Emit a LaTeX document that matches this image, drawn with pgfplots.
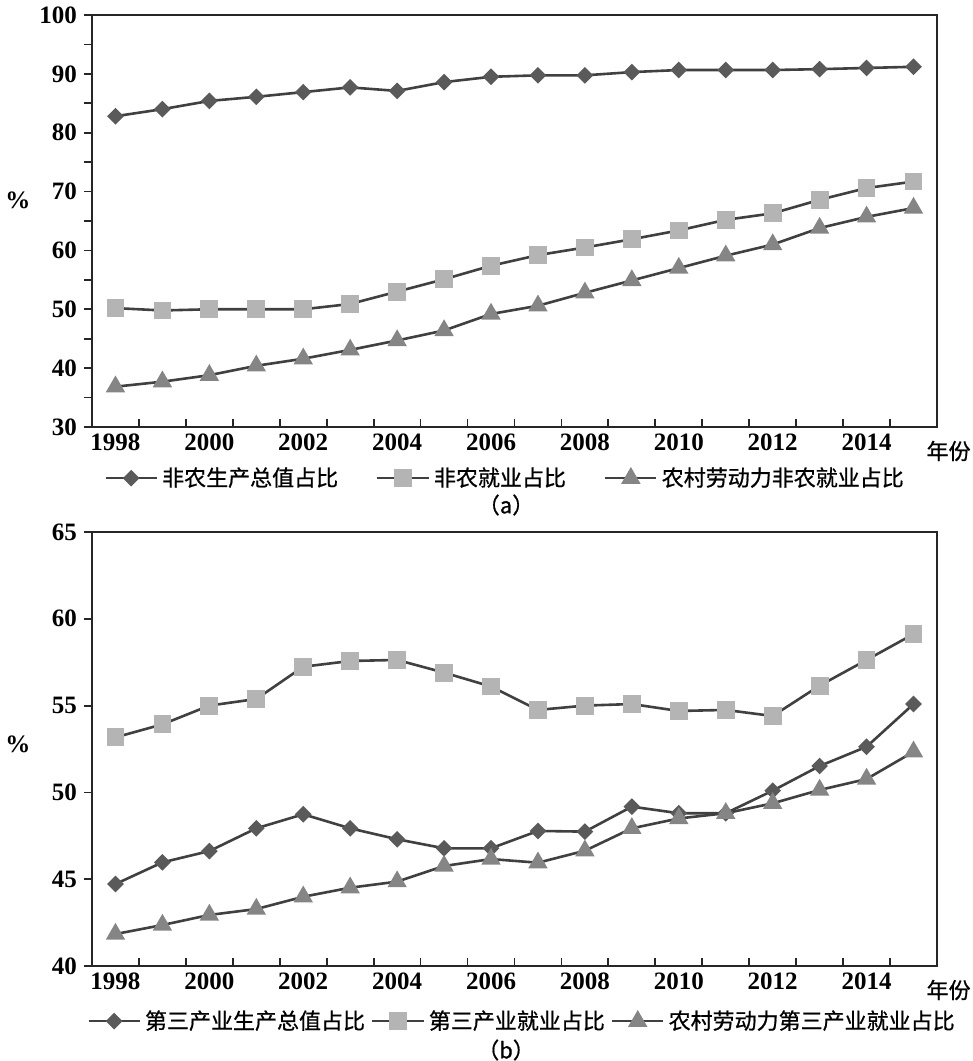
\documentclass[border=0pt]{standalone}
\usepackage{pgfplots}
\pgfplotsset{compat=1.18}
\usepackage{fontspec}
\setmainfont{Liberation Serif}
\newfontfamily\cjk[FakeBold=0.8]{Noto Sans CJK SC}
\definecolor{linec}{HTML}{404040}
\definecolor{dia}{HTML}{5A5A5A}
\definecolor{sq}{HTML}{B4B4B4}
\definecolor{tri}{HTML}{858585}
\begin{document}
\begin{tikzpicture}
\pgfplotsset{
  base/.style={
    scale only axis, width=422.5pt,
    xmin=1997.5, xmax=2015.5,
    xtick={1998,2000,...,2014},
    minor xtick={1998.5,1999.5,...,2014.5},
    xtick pos=bottom, ytick pos=left,
    xtick align=inside, ytick align=outside,
    major x tick style={draw=none},
    major tick length=4pt, minor tick length=4pt,
    axis line style={line width=1pt, black!85},
    tick style={line width=0.9pt, black!85},
    tick label style={font=\bfseries\fontsize{12.5}{14}\selectfont},
    /pgf/number format/assume math mode=true,
    /pgf/number format/1000 sep={},
    clip=false,
    legend columns=3,
    legend image code/.code={\draw[mark repeat=2,mark phase=2,##1] plot coordinates {(0cm,0cm) (0.45cm,0cm) (0.9cm,0cm)};},
  },
  sdia/.style={color=linec, line width=1.3pt, mark=square*, mark size=2.3pt, mark options={rotate=45, fill=dia, draw=dia, solid}},
  ssq/.style={color=linec, line width=1.3pt, mark=square*, mark size=3.8pt, mark options={fill=sq, draw=sq, solid}},
  stri/.style={color=linec, line width=1.3pt, mark=triangle*, mark size=4.3pt, mark options={fill=tri, draw=tri, solid}},
}
\path[use as bounding box] (-46pt,-47.5pt) rectangle (440.5pt,483pt);

% ---------- panel (a) ----------
\begin{axis}[base, at={(0,269.5pt)}, height=206pt,
  ymin=30, ymax=100, ytick={30,40,...,100}, minor ytick={35,45,...,95},
  legend style={at={(0.49,0)}, anchor=north, yshift=-16pt, draw=none, fill=none,
    font=\cjk\fontsize{11}{13}\selectfont,
    /tikz/every even column/.append style={column sep=17pt}},
]
\addplot[sdia] coordinates {
(1998,82.8) (1999,84.0) (2000,85.4) (2001,86.1) (2002,86.9) (2003,87.7)
(2004,87.1) (2005,88.6) (2006,89.5) (2007,89.75) (2008,89.75) (2009,90.3)
(2010,90.65) (2011,90.65) (2012,90.65) (2013,90.8) (2014,91.0) (2015,91.2)};
\addlegendentry{非农生产总值占比}
\addplot[ssq] coordinates {
(1998,50.2) (1999,49.8) (2000,50.0) (2001,50.0) (2002,50.0) (2003,50.9)
(2004,53.0) (2005,55.1) (2006,57.4) (2007,59.2) (2008,60.5) (2009,61.9)
(2010,63.4) (2011,65.2) (2012,66.3) (2013,68.6) (2014,70.6) (2015,71.7)};
\addlegendentry{非农就业占比}
\addplot[stri] coordinates {
(1998,36.85) (1999,37.7) (2000,38.8) (2001,40.4) (2002,41.6) (2003,43.1)
(2004,44.7) (2005,46.4) (2006,49.2) (2007,50.6) (2008,52.8) (2009,54.9)
(2010,57.0) (2011,59.1) (2012,61.0) (2013,63.8) (2014,65.7) (2015,67.2)};
\addlegendentry{农村劳动力非农就业占比}
\node[font=\bfseries\fontsize{12.5}{14}\selectfont] at (rel axis cs:0,0.55) [xshift=-37pt] {\%};
\node[font=\cjk\fontsize{11}{13}\selectfont, anchor=east, inner sep=0pt] at (rel axis cs:1,0) [xshift=17pt, yshift=-12pt] {年份};
\node[font=\cjk\fontsize{11}{13}\selectfont] at (rel axis cs:0.49,0) [yshift=-39pt] {（a）};
\end{axis}

% ---------- panel (b) ----------
\begin{axis}[base, at={(0,0)}, height=217pt,
  ymin=40, ymax=65, ytick={40,45,...,65},
  legend style={at={(0.51,0)}, anchor=north, yshift=-18pt, draw=none, fill=none,
    font=\cjk\fontsize{11}{13}\selectfont,
    /tikz/every even column/.append style={column sep=1pt}},
]
\addplot[sdia] coordinates {
(1998,44.72) (1999,45.97) (2000,46.62) (2001,47.93) (2002,48.74) (2003,47.93)
(2004,47.3) (2005,46.78) (2006,46.78) (2007,47.78) (2008,47.74) (2009,49.18)
(2010,48.8) (2011,48.8) (2012,50.1) (2013,51.52) (2014,52.63) (2015,55.09)};
\addlegendentry{第三产业生产总值占比}
\addplot[ssq] coordinates {
(1998,53.17) (1999,53.92) (2000,55.0) (2001,55.38) (2002,57.24) (2003,57.57)
(2004,57.63) (2005,56.9) (2006,56.1) (2007,54.75) (2008,55.0) (2009,55.09)
(2010,54.69) (2011,54.75) (2012,54.4) (2013,56.15) (2014,57.63) (2015,59.12)};
\addlegendentry{第三产业就业占比}
\addplot[stri] coordinates {
(1998,41.84) (1999,42.36) (2000,42.94) (2001,43.28) (2002,43.99) (2003,44.51)
(2004,44.86) (2005,45.76) (2006,46.16) (2007,45.95) (2008,46.64) (2009,47.93)
(2010,48.5) (2011,48.8) (2012,49.37) (2013,50.14) (2014,50.77) (2015,52.34)};
\addlegendentry{农村劳动力第三产业就业占比}
\node[font=\bfseries\fontsize{12.5}{14}\selectfont] at (rel axis cs:0,0.51) [xshift=-37pt] {\%};
\node[font=\cjk\fontsize{11}{13}\selectfont, anchor=east, inner sep=0pt] at (rel axis cs:1,0) [xshift=17pt, yshift=-12pt] {年份};
\node[font=\cjk\fontsize{11}{13}\selectfont] at (rel axis cs:0.49,0) [yshift=-42pt] {（b）};
\end{axis}
\end{tikzpicture}
\end{document}
